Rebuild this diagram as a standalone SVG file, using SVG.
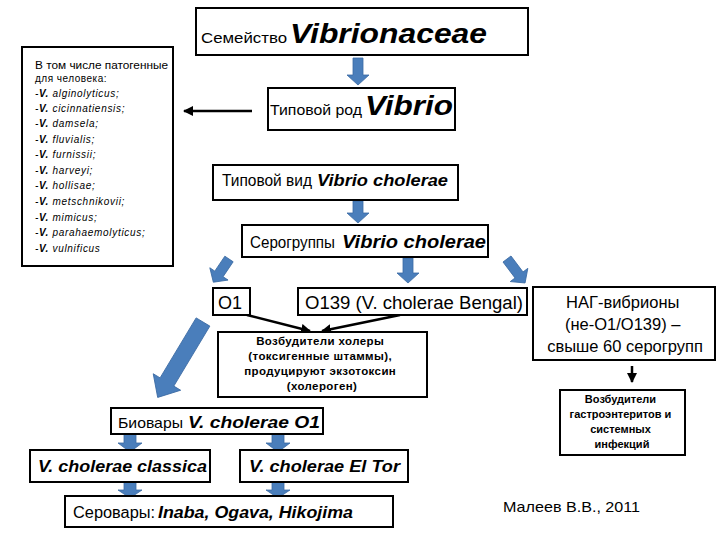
<svg xmlns="http://www.w3.org/2000/svg" width="720" height="540" viewBox="0 0 720 540">
<defs>
<style>
.box{fill:#fff;stroke:#000;stroke-width:2}
.t{font-family:"Liberation Sans",Arial,sans-serif;fill:#000}
.bi{font-weight:bold;font-style:italic}
.b{font-weight:bold}
.it{font-style:italic}
.blue{fill:#4a7ebb;stroke:#3a6aa3;stroke-width:0.8}
.blk{stroke:#000;stroke-width:2.5;fill:none}
</style>
<marker id="ah" viewBox="0 0 10 10" refX="9" refY="5" markerWidth="4" markerHeight="4" orient="auto-start-reverse" markerUnits="strokeWidth">
<path d="M0,0 L10,5 L0,10 z" fill="#000"/>
</marker>
</defs>
<rect width="720" height="540" fill="#fff"/>

<g id="connectors">
<line class="blk" x1="252" y1="111" x2="184" y2="111" marker-end="url(#ah)" stroke-width="1.8"/>
<polygon class="blue" transform="translate(358,58)" points="-5,0 5,0 5,17 11,17 0,27 -11,17 -5,17"/>
<polygon class="blue" transform="translate(358,201)" points="-5,0 5,0 5,12 11,12 0,22 -11,12 -5,12"/>
<polygon class="blue" transform="translate(408,258)" points="-5,0 5,0 5,15 11,15 0,25 -11,15 -5,15"/>
<polygon class="blue" transform="translate(229,259) rotate(34)" points="-5,0 5,0 5,18 11,18 0,28 -11,18 -5,18"/>
<polygon class="blue" transform="translate(507,259) rotate(-37)" points="-5,0 5,0 5,20 11,20 0,30 -11,20 -5,20"/>
<polygon class="blue" transform="translate(203,322) rotate(31)" points="-8,0 8,0 8,70 16,70 0,88 -16,70 -8,70"/>
<line class="blk" x1="247" y1="315" x2="310" y2="331" marker-end="url(#ah)"/>
<line class="blk" x1="400" y1="315" x2="322" y2="331" marker-end="url(#ah)"/>
<line class="blk" x1="632" y1="366" x2="632" y2="382" marker-end="url(#ah)" stroke-width="2"/>
<polygon class="blue" transform="translate(130,434)" points="-6,0 6,0 6,9 12,9 0,18 -12,9 -6,9"/>
<polygon class="blue" transform="translate(278,434)" points="-6,0 6,0 6,9 12,9 0,18 -12,9 -6,9"/>
<polygon class="blue" transform="translate(130,482)" points="-6,0 6,0 6,8 12,8 0,16 -12,8 -6,8"/>
<polygon class="blue" transform="translate(278,482)" points="-6,0 6,0 6,8 12,8 0,16 -12,8 -6,8"/>
</g>

<g id="family">
<rect class="box" x="196" y="8" width="332" height="47"/>
<text class="t" x="201" y="43" font-size="14" textLength="86" lengthAdjust="spacingAndGlyphs">Семейство</text>
<text class="t bi" x="290" y="43" font-size="27" textLength="197" lengthAdjust="spacingAndGlyphs">Vibrionaceae</text>
</g>

<g id="species-list">
<rect class="box" x="22" y="47" width="151" height="219" stroke-width="1.5"/>
<text class="t" font-size="10" x="35">
<tspan x="35" y="69" textLength="133" lengthAdjust="spacingAndGlyphs">В том числе патогенные</tspan>
<tspan x="35" y="82" letter-spacing="0.5">для человека:</tspan>
</text>
<text class="t it" font-size="10" letter-spacing="0.7">
<tspan x="35" y="97">-<tspan class="b">V.</tspan> alginolyticus;</tspan>
<tspan x="35" y="112">-<tspan class="b">V.</tspan> cicinnatiensis;</tspan>
<tspan x="35" y="127">-<tspan class="b">V.</tspan> damsela;</tspan>
<tspan x="35" y="143">-<tspan class="b">V.</tspan> fluvialis;</tspan>
<tspan x="35" y="158">-<tspan class="b">V.</tspan> furnissii;</tspan>
<tspan x="35" y="174">-<tspan class="b">V.</tspan> harveyi;</tspan>
<tspan x="35" y="189">-<tspan class="b">V.</tspan> hollisae;</tspan>
<tspan x="35" y="205">-<tspan class="b">V.</tspan> metschnikovii;</tspan>
<tspan x="35" y="221">-<tspan class="b">V.</tspan> mimicus;</tspan>
<tspan x="35" y="236">-<tspan class="b">V.</tspan> parahaemolyticus;</tspan>
<tspan x="35" y="252">-<tspan class="b">V.</tspan> vulnificus</tspan>
</text>
</g>

<g id="genus">
<rect class="box" x="268" y="88" width="187" height="42"/>
<text class="t" x="270" y="115" font-size="14" textLength="92" lengthAdjust="spacingAndGlyphs">Типовой род</text>
<text class="t bi" x="365" y="115" font-size="27" textLength="88" lengthAdjust="spacingAndGlyphs">Vibrio</text>
</g>

<g id="type-species">
<rect class="box" x="213" y="165" width="245" height="35"/>
<text class="t" x="222" y="186" font-size="16" textLength="90" lengthAdjust="spacingAndGlyphs">Типовой вид</text>
<text class="t bi" x="317" y="186" font-size="17" textLength="131" lengthAdjust="spacingAndGlyphs">Vibrio cholerae</text>
</g>

<g id="serogroups">
<rect class="box" x="242" y="225" width="246" height="32"/>
<text class="t" x="250" y="248" font-size="16" textLength="85" lengthAdjust="spacingAndGlyphs">Серогруппы</text>
<text class="t bi" x="342" y="248" font-size="19" textLength="144" lengthAdjust="spacingAndGlyphs">Vibrio cholerae</text>
</g>

<g id="o1">
<rect class="box" x="213" y="288" width="37" height="27"/>
<text class="t" x="218" y="309" font-size="18">O1</text>
</g>

<g id="o139">
<rect class="box" x="298" y="288" width="229" height="27"/>
<text class="t" x="305" y="309" font-size="18" textLength="218" lengthAdjust="spacingAndGlyphs">O139 (V. cholerae Bengal)</text>
</g>

<g id="cholera">
<rect class="box" x="218" y="332" width="209" height="65"/>
<text class="t b" font-size="11.5" text-anchor="middle" letter-spacing="0.4">
<tspan x="322" y="345">Возбудители холеры</tspan>
<tspan x="322" y="360">(токсигенные штаммы),</tspan>
<tspan x="322" y="375">продуцируют экзотоксин</tspan>
<tspan x="322" y="390">(холероген)</tspan>
</text>
</g>

<g id="nag">
<rect class="box" x="533" y="287" width="182" height="73"/>
<text class="t" font-size="16.5" text-anchor="middle">
<tspan x="625" y="308">НАГ-вибрионы</tspan>
<tspan x="625" y="330">(не-O1/O139) –</tspan>
<tspan x="625" y="352">свыше 60 серогрупп</tspan>
</text>
</g>

<g id="gastro">
<rect class="box" x="560" y="390" width="125" height="65"/>
<text class="t b" font-size="11" text-anchor="middle">
<tspan x="622" y="403">Возбудители</tspan>
<tspan x="622" y="418">гастроэнтеритов и</tspan>
<tspan x="622" y="433">системных</tspan>
<tspan x="622" y="448">инфекций</tspan>
</text>
</g>

<g id="biovars">
<rect class="box" x="111" y="408" width="212" height="26"/>
<text class="t" x="118" y="428" font-size="15" textLength="65" lengthAdjust="spacingAndGlyphs">Биовары</text>
<text class="t bi" x="188" y="428" font-size="17" textLength="132" lengthAdjust="spacingAndGlyphs">V. cholerae O1</text>
</g>

<g id="classica">
<rect class="box" x="30" y="450" width="180" height="32"/>
<text class="t bi" x="38" y="472" font-size="17" textLength="169" lengthAdjust="spacingAndGlyphs">V. cholerae classica</text>
</g>

<g id="eltor">
<rect class="box" x="240" y="450" width="168" height="32"/>
<text class="t bi" x="249" y="472" font-size="17" textLength="151" lengthAdjust="spacingAndGlyphs">V. cholerae El Tor</text>
</g>

<g id="serovars">
<rect class="box" x="65" y="496" width="328" height="31"/>
<text class="t" x="73" y="518" font-size="16" textLength="82" lengthAdjust="spacingAndGlyphs">Серовары:</text>
<text class="t bi" x="158" y="518" font-size="17" textLength="195" lengthAdjust="spacingAndGlyphs">Inaba, Ogava, Hikojima</text>
</g>

<g id="author">
<text class="t" x="503" y="512" font-size="15" textLength="137" lengthAdjust="spacingAndGlyphs">Малеев В.В., 2011</text>
</g>
</svg>
